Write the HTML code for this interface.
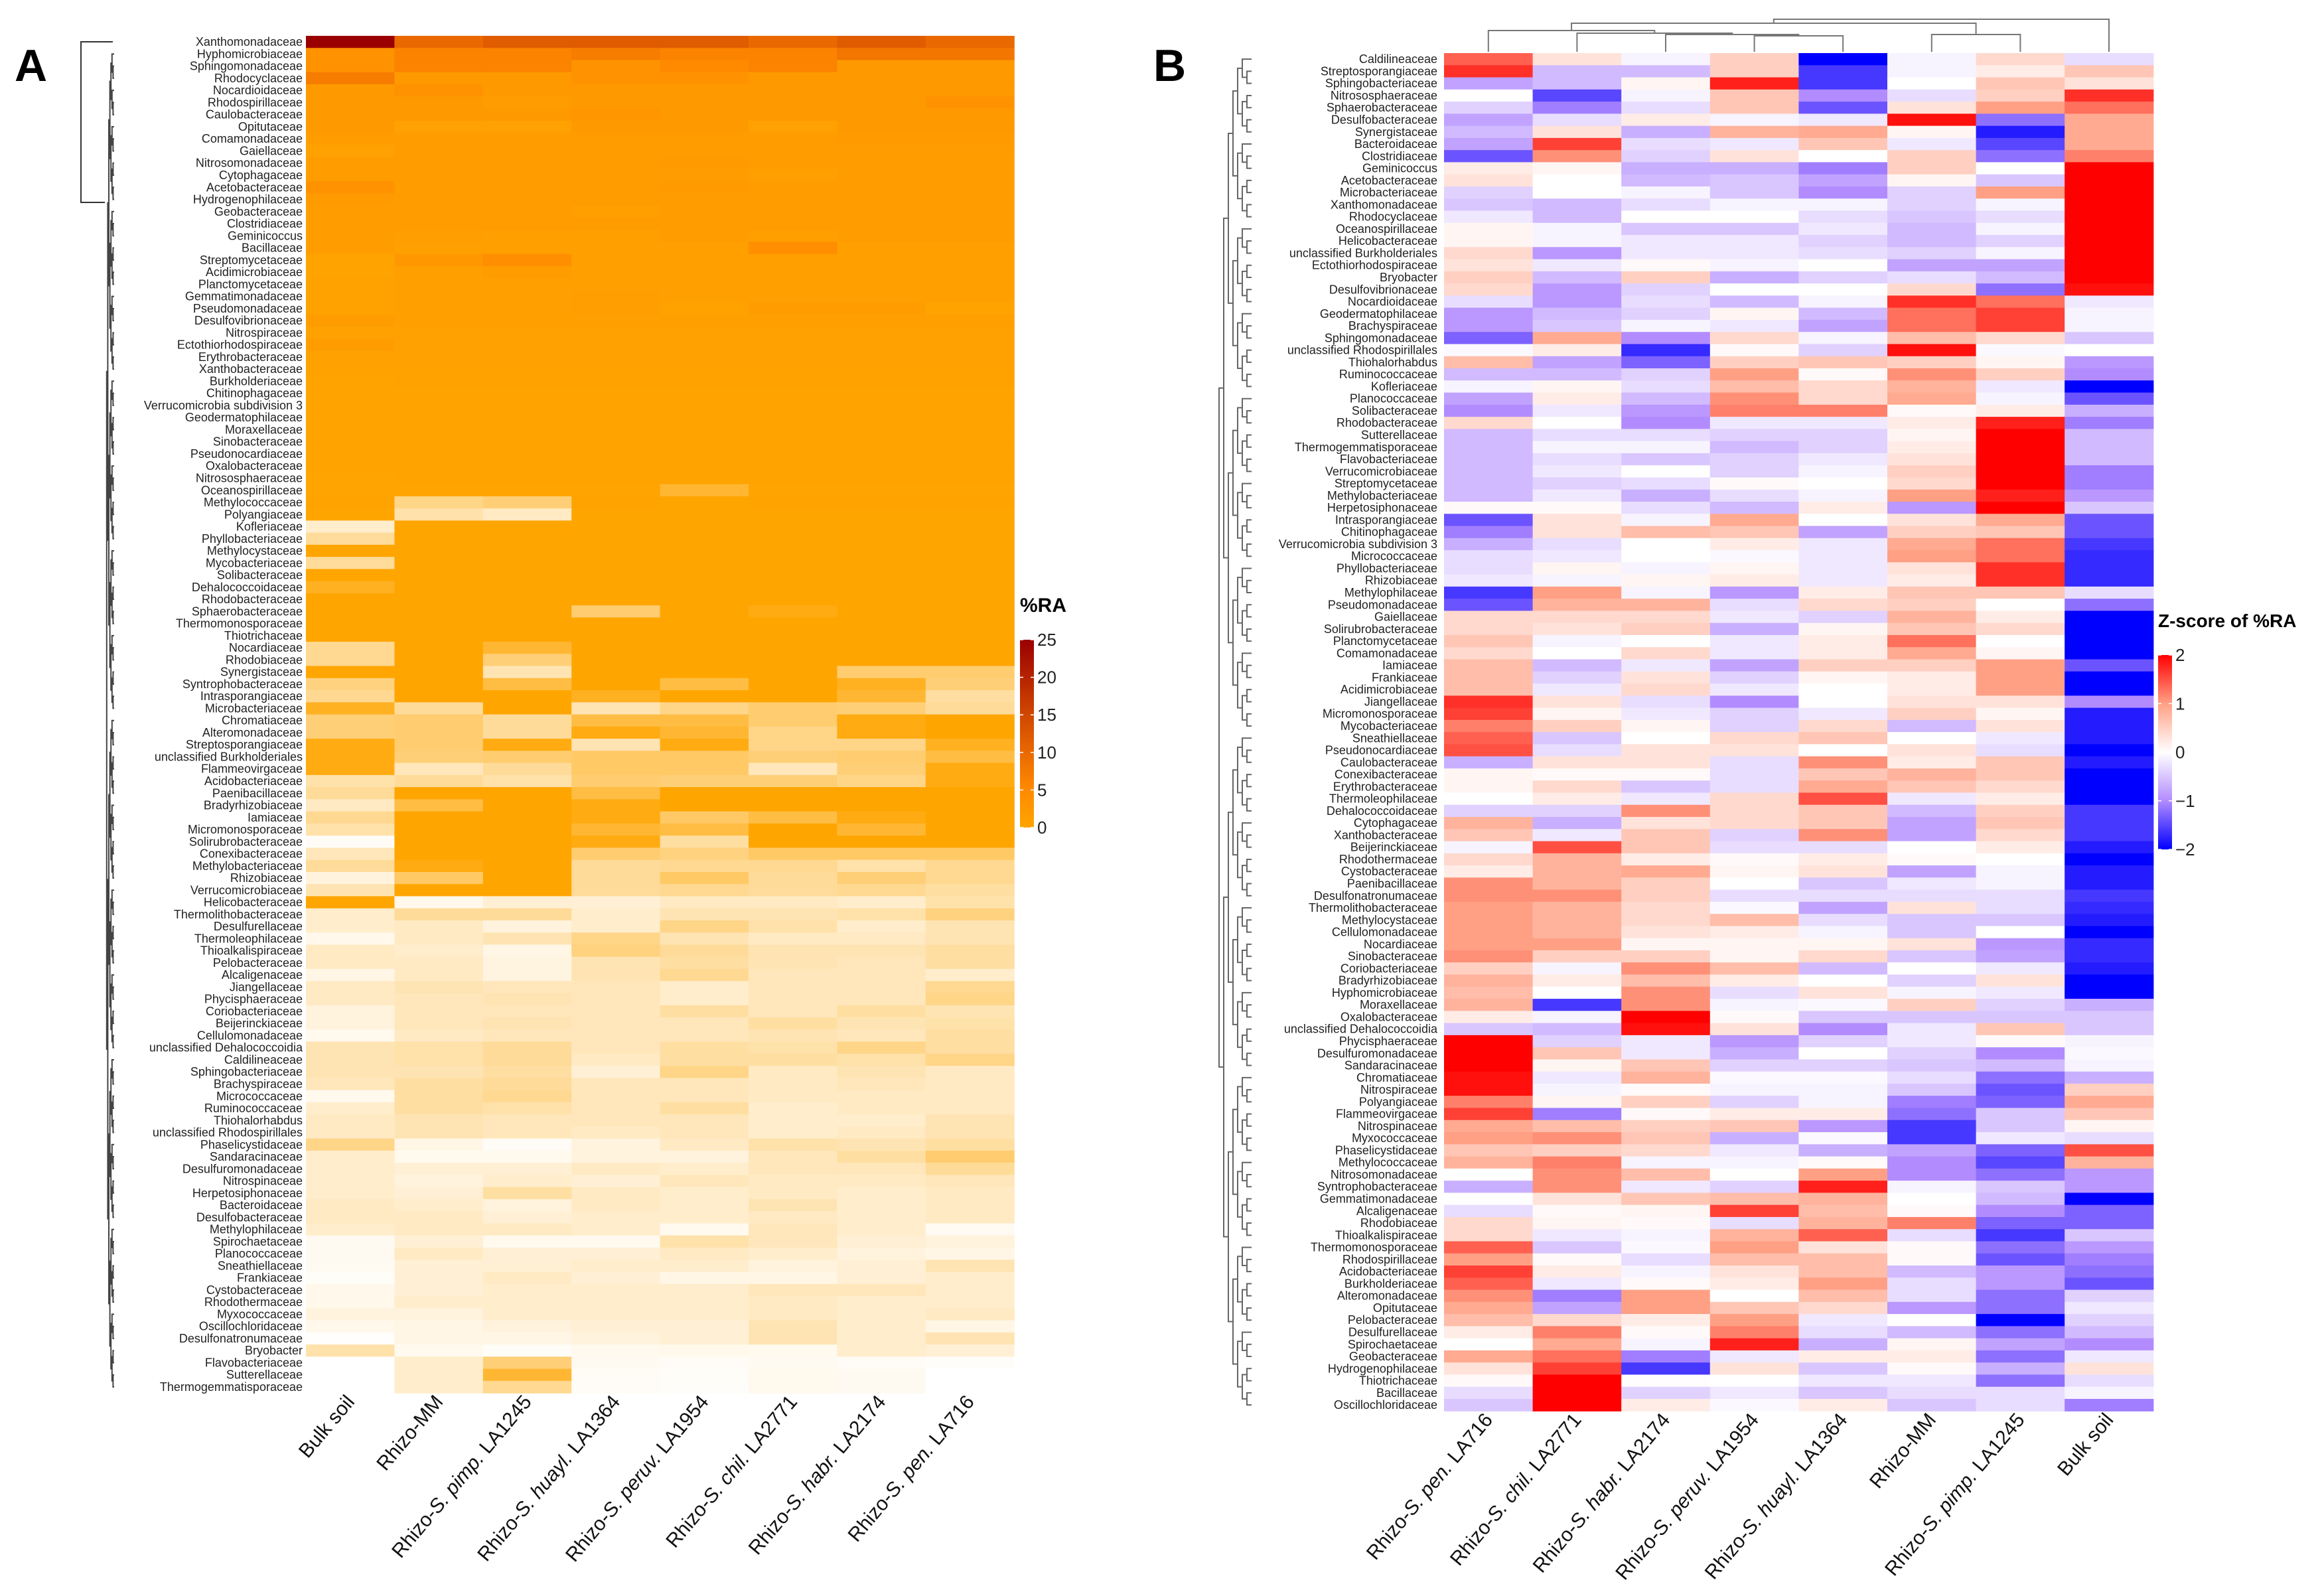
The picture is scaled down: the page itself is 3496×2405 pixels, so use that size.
<!DOCTYPE html>
<html><head><meta charset="utf-8"><title>Heatmaps A and B</title>
<style>
html,body{margin:0;padding:0;background:#fff;}
svg{display:block;}
text{font-family:"Liberation Sans",sans-serif;}
</style></head>
<body>
<svg id="fig" xmlns="http://www.w3.org/2000/svg" width="3496" height="2405" viewBox="0 0 3496 2405">
<rect width="3496" height="2405" fill="#fff"/>
<text x="22" y="122" font-size="68" font-weight="bold">A</text>
<text x="1738" y="122" font-size="68" font-weight="bold">B</text>
<g id="panelA"></g>
<g id="panelB"></g>
</svg>
<script>
// ---------- Panel A data ----------
const colPrefixA = ["Bulk soil","Rhizo-MM","Rhizo-","Rhizo-","Rhizo-","Rhizo-","Rhizo-","Rhizo-"];
const colItalicA = ["","","S. pimp.","S. huayl.","S. peruv.","S. chil.","S. habr.","S. pen."];
const colSuffixA = ["",""," LA1245"," LA1364"," LA1954"," LA2771"," LA2174"," LA716"];
const rowsA = ["Xanthomonadaceae","Hyphomicrobiaceae","Sphingomonadaceae","Rhodocyclaceae","Nocardioidaceae","Rhodospirillaceae","Caulobacteraceae","Opitutaceae","Comamonadaceae","Gaiellaceae","Nitrosomonadaceae","Cytophagaceae","Acetobacteraceae","Hydrogenophilaceae","Geobacteraceae","Clostridiaceae","Geminicoccus","Bacillaceae","Streptomycetaceae","Acidimicrobiaceae","Planctomycetaceae","Gemmatimonadaceae","Pseudomonadaceae","Desulfovibrionaceae","Nitrospiraceae","Ectothiorhodospiraceae","Erythrobacteraceae","Xanthobacteraceae","Burkholderiaceae","Chitinophagaceae","Verrucomicrobia subdivision 3","Geodermatophilaceae","Moraxellaceae","Sinobacteraceae","Pseudonocardiaceae","Oxalobacteraceae","Nitrososphaeraceae","Oceanospirillaceae","Methylococcaceae","Polyangiaceae","Kofleriaceae","Phyllobacteriaceae","Methylocystaceae","Mycobacteriaceae","Solibacteraceae","Dehalococcoidaceae","Rhodobacteraceae","Sphaerobacteraceae","Thermomonosporaceae","Thiotrichaceae","Nocardiaceae","Rhodobiaceae","Synergistaceae","Syntrophobacteraceae","Intrasporangiaceae","Microbacteriaceae","Chromatiaceae","Alteromonadaceae","Streptosporangiaceae","unclassified Burkholderiales","Flammeovirgaceae","Acidobacteriaceae","Paenibacillaceae","Bradyrhizobiaceae","Iamiaceae","Micromonosporaceae","Solirubrobacteraceae","Conexibacteraceae","Methylobacteriaceae","Rhizobiaceae","Verrucomicrobiaceae","Helicobacteraceae","Thermolithobacteraceae","Desulfurellaceae","Thermoleophilaceae","Thioalkalispiraceae","Pelobacteraceae","Alcaligenaceae","Jiangellaceae","Phycisphaeraceae","Coriobacteriaceae","Beijerinckiaceae","Cellulomonadaceae","unclassified Dehalococcoidia","Caldilineaceae","Sphingobacteriaceae","Brachyspiraceae","Micrococcaceae","Ruminococcaceae","Thiohalorhabdus","unclassified Rhodospirillales","Phaselicystidaceae","Sandaracinaceae","Desulfuromonadaceae","Nitrospinaceae","Herpetosiphonaceae","Bacteroidaceae","Desulfobacteraceae","Methylophilaceae","Spirochaetaceae","Planococcaceae","Sneathiellaceae","Frankiaceae","Cystobacteraceae","Rhodothermaceae","Myxococcaceae","Oscillochloridaceae","Desulfonatronumaceae","Bryobacter","Flavobacteriaceae","Sutterellaceae","Thermogemmatisporaceae"];
const valuesA = [
[25,10,12,12,12,10,12,10],[4,6,6,7,6,6,8,8],[4,6,6,4,5,6,3,3],[7,3,3,4,4,3,3,3],[3,4,3,3,3,3,3,3],[3,3,2.5,3,3,3,3,4],[3,3,3,3.5,3,3,3,3],[3,2,2,3,3,2,3,3],
[2.5,2.5,2.5,2.5,2.5,2.5,2.8,2.8],[2,2.5,2.5,2.5,2.5,2.5,2.5,2.5],[2.5,2.5,2.5,2.5,2.8,2.5,2.5,2.5],[2.5,2.5,2.5,2.5,2.5,2.3,2.5,2.5],[4,2.5,2.5,2.5,2.8,2.5,2.5,2.5],[2.8,2.5,2.5,2.5,2.6,2.5,2.5,2.5],[2.5,2.5,2.5,2.3,2.5,2.5,2.5,2.5],[2.5,2.5,2.5,2.5,2.5,2.5,2.5,2.5],
[2.6,2.4,2.3,2.2,2.5,2.3,2.5,2.5],[2.5,2.3,2.3,2.3,2.3,4.5,2.3,2.3],[1.8,3.2,4.5,2.3,2.3,2.3,2.3,2.3],[1.8,2.3,2.5,2.3,2.3,2.3,2.3,2.3],[1.9,2.2,2.2,2.2,2.2,2.2,2.3,2.2],[1.9,2.2,2.2,2.4,2.2,2.2,2.3,2.2],[1.9,2.2,2.2,2.4,1.9,2.5,2.5,1.8],[2.5,2.2,2.2,2.2,2.2,2.2,2.2,2.2],
[2,2,2,2,2,2,2,2],[2.6,2,2,2,2,2,2,2],[2,2,2,2,2,2,2,2],[1.9,1.9,1.9,1.9,1.9,1.9,1.9,1.9],[1.8,1.9,1.9,1.9,1.9,1.9,1.9,1.9],[1.8,1.8,1.8,1.8,1.8,1.8,1.8,1.8],[1.8,1.8,1.8,1.8,1.8,1.8,1.8,1.8],[1.8,1.8,1.8,1.8,1.8,1.8,1.8,1.8],
[1.7,1.8,1.8,1.8,1.8,1.8,1.8,1.8],[1.7,1.7,1.7,1.7,1.7,1.7,1.7,1.7],[1.7,1.7,1.7,1.7,1.7,1.7,1.7,1.7],[1.7,1.7,1.7,1.7,1.7,1.7,1.7,1.7],[1.6,1.7,1.7,1.7,1.7,1.7,1.7,1.7],[1.6,1.6,1.6,1.6,1.2,1.6,1.6,1.6],[1.7,0.7,0.8,1.7,1.5,1.7,1.7,1.7],[1.5,0.5,0.35,1.5,1.5,1.5,1.5,1.5],
[0.3,1.5,1.5,1.5,1.5,1.5,1.5,1.5],[0.6,1.5,1.5,1.5,1.5,1.5,1.5,1.5],[1.5,1.5,1.5,1.5,1.5,1.5,1.5,1.5],[0.6,1.5,1.5,1.5,1.5,1.5,1.5,1.5],[1.5,1.5,1.5,1.5,1.5,1.5,1.5,1.5],[1.3,1.5,1.5,1.5,1.5,1.5,1.5,1.5],[1.5,1.5,1.5,1.5,1.5,1.5,1.5,1.5],[1.5,1.5,1.5,0.85,1.5,1.4,1.5,1.5],
[1.5,1.5,1.5,1.5,1.5,1.5,1.5,1.5],[1.5,1.5,1.5,1.5,1.5,1.5,1.5,1.5],[0.65,1.5,1.2,1.5,1.5,1.5,1.5,1.5],[0.65,1.5,0.8,1.5,1.5,1.5,1.5,1.5],[1.5,1.5,0.45,1.5,1.5,1.5,0.85,0.85],[0.75,1.5,1.1,1.5,1.1,1.5,1.3,0.8],[0.65,1.5,1.5,1.3,1.5,1.5,1.2,0.55],[1.3,0.6,1.5,0.45,0.7,0.85,0.8,0.6],
[0.8,0.85,0.6,1.1,1.1,0.85,1.4,1.5],[0.8,0.85,0.6,1.4,1.2,0.7,1.4,1.5],[1.4,0.85,1.4,0.45,1.4,0.7,0.7,1.3],[1.4,0.8,0.85,0.9,0.9,0.8,0.85,1.1],[1.4,0.4,0.6,0.9,0.9,0.4,0.8,1.4],[0.5,0.6,0.5,0.85,0.8,0.8,0.7,1.4],[0.6,1.5,1.5,1.1,1.5,1.5,1.5,1.5],[0.35,1.1,1.5,1.4,1.5,1.5,1.5,1.5],
[0.65,1.5,1.5,1.4,0.9,1.1,1.4,1.5],[0.5,1.5,1.5,1.2,1.1,1.5,1.2,1.5],[0.05,1.5,1.5,1.4,0.55,1.5,1.5,1.5],[0.4,1.5,1.5,0.85,0.75,0.9,0.9,0.9],[0.6,1.4,1.5,0.6,0.65,0.65,0.5,0.65],[0.2,0.9,1.5,0.6,0.9,0.6,0.8,0.65],[0.45,1.5,1.5,0.6,0.65,0.6,0.65,0.55],[1.5,0.12,0.25,0.25,0.35,0.35,0.3,0.5],
[0.3,0.6,0.6,0.3,0.45,0.45,0.5,0.75],[0.3,0.35,0.2,0.3,0.7,0.5,0.3,0.45],[0.12,0.35,0.45,0.7,0.45,0.35,0.35,0.45],[0.35,0.3,0.15,0.75,0.6,0.45,0.45,0.55],[0.35,0.35,0.18,0.45,0.55,0.45,0.4,0.55],[0.15,0.35,0.18,0.45,0.65,0.4,0.4,0.3],[0.35,0.45,0.4,0.4,0.3,0.4,0.4,0.65],[0.35,0.4,0.45,0.4,0.3,0.4,0.4,0.7],
[0.2,0.4,0.4,0.4,0.55,0.4,0.55,0.45],[0.2,0.4,0.45,0.4,0.4,0.55,0.45,0.5],[0.1,0.35,0.4,0.4,0.4,0.45,0.4,0.55],[0.45,0.5,0.6,0.4,0.55,0.5,0.7,0.55],[0.45,0.5,0.6,0.35,0.55,0.55,0.5,0.7],[0.45,0.45,0.55,0.25,0.7,0.35,0.45,0.35],[0.4,0.55,0.6,0.4,0.4,0.35,0.4,0.35],[0.1,0.55,0.65,0.4,0.4,0.35,0.35,0.35],
[0.3,0.55,0.5,0.4,0.55,0.3,0.35,0.35],[0.35,0.45,0.4,0.4,0.4,0.3,0.3,0.45],[0.35,0.45,0.4,0.35,0.4,0.3,0.35,0.45],[0.7,0.15,0.05,0.2,0.35,0.5,0.45,0.55],[0.3,0.1,0.1,0.2,0.2,0.4,0.55,0.85],[0.3,0.25,0.25,0.35,0.3,0.4,0.4,0.6],[0.3,0.2,0.3,0.25,0.4,0.35,0.35,0.4],[0.3,0.25,0.55,0.35,0.3,0.35,0.3,0.35],
[0.35,0.3,0.2,0.35,0.3,0.45,0.3,0.35],[0.35,0.35,0.25,0.3,0.3,0.35,0.3,0.35],[0.3,0.35,0.35,0.3,0.1,0.4,0.3,0.08],[0.08,0.25,0.1,0.1,0.5,0.4,0.25,0.2],[0.08,0.35,0.25,0.25,0.35,0.3,0.2,0.15],[0.08,0.25,0.25,0.3,0.3,0.2,0.25,0.45],[0.04,0.25,0.35,0.25,0.15,0.15,0.25,0.3],[0.12,0.25,0.3,0.3,0.3,0.4,0.4,0.3],
[0.12,0.3,0.3,0.3,0.3,0.35,0.3,0.3],[0.2,0.2,0.3,0.3,0.3,0.35,0.3,0.35],[0.12,0.15,0.2,0.25,0.25,0.45,0.3,0.15],[0.02,0.15,0.15,0.2,0.25,0.45,0.3,0.45],[0.5,0.1,0.04,0.1,0.12,0.1,0.3,0.25],[0,0.3,0.8,0.08,0.05,0.08,0.05,0.03],[0,0.3,1.2,0.06,0.04,0.1,0.08,0],[0,0.3,0.65,0.05,0.03,0.1,0.08,0]
];
const ticksA = [0,5,10,15,20,25];

// ---------- Panel B data ----------
const colPrefixB = ["Rhizo-","Rhizo-","Rhizo-","Rhizo-","Rhizo-","Rhizo-MM","Rhizo-","Bulk soil"];
const colItalicB = ["S. pen.","S. chil.","S. habr.","S. peruv.","S. huayl.","","S. pimp.",""];
const colSuffixB = [" LA716"," LA2771"," LA2174"," LA1954"," LA1364",""," LA1245",""];
const rowsB = ["Caldilineaceae","Streptosporangiaceae","Sphingobacteriaceae","Nitrososphaeraceae","Sphaerobacteraceae","Desulfobacteraceae","Synergistaceae","Bacteroidaceae","Clostridiaceae","Geminicoccus","Acetobacteraceae","Microbacteriaceae","Xanthomonadaceae","Rhodocyclaceae","Oceanospirillaceae","Helicobacteraceae","unclassified Burkholderiales","Ectothiorhodospiraceae","Bryobacter","Desulfovibrionaceae","Nocardioidaceae","Geodermatophilaceae","Brachyspiraceae","Sphingomonadaceae","unclassified Rhodospirillales","Thiohalorhabdus","Ruminococcaceae","Kofleriaceae","Planococcaceae","Solibacteraceae","Rhodobacteraceae","Sutterellaceae","Thermogemmatisporaceae","Flavobacteriaceae","Verrucomicrobiaceae","Streptomycetaceae","Methylobacteriaceae","Herpetosiphonaceae","Intrasporangiaceae","Chitinophagaceae","Verrucomicrobia subdivision 3","Micrococcaceae","Phyllobacteriaceae","Rhizobiaceae","Methylophilaceae","Pseudomonadaceae","Gaiellaceae","Solirubrobacteraceae","Planctomycetaceae","Comamonadaceae","Iamiaceae","Frankiaceae","Acidimicrobiaceae","Jiangellaceae","Micromonosporaceae","Mycobacteriaceae","Sneathiellaceae","Pseudonocardiaceae","Caulobacteraceae","Conexibacteraceae","Erythrobacteraceae","Thermoleophilaceae","Dehalococcoidaceae","Cytophagaceae","Xanthobacteraceae","Beijerinckiaceae","Rhodothermaceae","Cystobacteraceae","Paenibacillaceae","Desulfonatronumaceae","Thermolithobacteraceae","Methylocystaceae","Cellulomonadaceae","Nocardiaceae","Sinobacteraceae","Coriobacteriaceae","Bradyrhizobiaceae","Hyphomicrobiaceae","Moraxellaceae","Oxalobacteraceae","unclassified Dehalococcoidia","Phycisphaeraceae","Desulfuromonadaceae","Sandaracinaceae","Chromatiaceae","Nitrospiraceae","Polyangiaceae","Flammeovirgaceae","Nitrospinaceae","Myxococcaceae","Phaselicystidaceae","Methylococcaceae","Nitrosomonadaceae","Syntrophobacteraceae","Gemmatimonadaceae","Alcaligenaceae","Rhodobiaceae","Thioalkalispiraceae","Thermomonosporaceae","Rhodospirillaceae","Acidobacteriaceae","Burkholderiaceae","Alteromonadaceae","Opitutaceae","Pelobacteraceae","Desulfurellaceae","Spirochaetaceae","Geobacteraceae","Hydrogenophilaceae","Thiotrichaceae","Bacillaceae","Oscillochloridaceae"];
const valuesB = [
[1.4,0.3,-0.1,0.5,-2,-0.1,0.4,-0.3],[1.7,-0.6,-0.6,0.5,-1.6,-0.1,0.2,0.6],[-0.8,-0.6,0.1,1.8,-1.6,0,0.6,0.3],[0,-1.5,-0.1,0.6,-1.0,-0.3,0.5,1.7],[-0.4,-1.1,-0.3,0.6,-1.4,0.3,1.0,1.3],[-0.8,-0.3,0.2,-0.1,-0.2,1.9,-1.2,0.9],[-0.6,0.3,-0.7,0.8,0.9,0.1,-1.8,0.9],[-0.8,1.6,-0.3,-0.2,0.6,-0.2,-1.5,0.9],
[-1.4,1.1,-0.4,0.3,0,0.5,-1.2,1.2],[0.2,0.1,-0.7,-0.7,-1.1,0.5,0,2],[0.3,0,-0.6,-0.5,-0.8,0.1,-0.5,2],[-0.4,0,-0.1,-0.5,-1.0,-0.4,1.0,2],[-0.5,-0.6,-0.3,-0.1,-0.1,-0.4,-0.1,2],[-0.2,-0.6,0,0,-0.3,-0.5,-0.3,2],[0.1,-0.1,-0.5,-0.5,-0.2,-0.6,-0.1,2],[0.1,-0.1,-0.2,-0.2,-0.4,-0.6,-0.4,2],
[0.4,-0.9,-0.2,-0.2,-0.3,-0.4,-0.1,2],[0.3,-0.2,0.05,-0.1,0,-0.8,-0.8,2],[0.5,-0.6,0.5,-0.7,-0.4,-0.3,-0.6,2],[0.4,-0.9,-0.4,0,0,0.4,-1.2,1.9],[-0.3,-0.9,-0.3,-0.6,-0.1,1.7,1.3,-0.2],[-0.9,-0.6,-0.4,0.1,-0.6,1.3,1.6,-0.1],[-0.9,-0.5,-0.1,-0.2,-0.8,1.3,1.6,-0.1],[-1.3,0.9,-1.0,0.4,-0.1,0.7,0.4,-0.5],
[-0.05,0.2,-1.7,0.05,-0.4,1.9,-0.05,0],[0.7,-0.8,-1.3,0.5,0.6,0.5,0.1,-0.9],[-0.6,-0.6,-0.4,1.0,0.05,1.1,0.5,-1.0],[-0.1,0.1,-0.3,0.7,0.4,0.8,-0.2,-2],[-0.8,0.2,-0.6,1.1,0.4,0.9,-0.1,-1.4],[-1.0,-0.2,-0.9,1.2,1.2,0.05,0.2,-0.7],[0.4,0,-1.0,-0.2,-0.2,0.2,1.8,-1.1],[-0.6,-0.3,-0.3,-0.4,-0.4,0.1,2,-0.6],
[-0.6,-0.1,-0.1,-0.6,-0.4,0.2,2,-0.6],[-0.6,-0.3,-0.5,-0.4,-0.2,0.3,2,-0.6],[-0.6,-0.2,0,-0.4,-0.1,0.5,2,-1.1],[-0.6,-0.4,-0.3,0.05,0,0.4,2,-1.1],[-0.6,-0.2,-0.7,-0.3,-0.1,1.0,1.8,-0.9],[0.05,0.05,-0.3,-0.6,0.2,-0.9,2,-0.5],[-1.4,0.3,-0.1,0.9,0,0.3,0.9,-1.4],[-1.1,0.3,0.7,0.6,-0.8,0.5,0.6,-1.4],
[-0.7,-0.3,0,0.2,-0.2,0.9,1.3,-1.6],[-0.3,-0.2,0,-0.05,-0.2,1.0,1.3,-1.7],[-0.3,0.1,-0.1,0.1,-0.2,0.3,1.7,-1.7],[-0.2,-0.1,0.1,0.2,-0.2,0.2,1.7,-1.7],[-1.6,1.0,-0.1,-0.9,0.2,0.6,0.6,-0.3],[-1.4,0.8,0.8,-0.3,0.4,0.5,0,-1.2],[0.4,0.4,0.4,-0.2,-0.4,0.8,0.2,-2],[0.4,0.3,0.5,-0.7,0.1,0.6,0.4,-2],
[0.6,-0.1,0,-0.2,0.2,1.3,0,-2],[0.4,0,0.4,-0.2,0.2,0.9,0.1,-2],[0.7,-0.6,-0.2,-0.8,0.5,0.5,1.0,-1.4],[0.7,-0.4,0.3,-0.4,0.1,0.2,1.0,-2],[0.7,-0.2,0.4,-0.2,0,0.2,1.0,-2],[1.7,0.3,-0.3,-1.0,0,0.3,0.3,-1.0],[1.6,0.1,-0.2,-0.4,-0.2,0.5,0.1,-1.8],[1.2,0.5,0.1,-0.4,0.4,-0.6,0.3,-1.8],
[1.4,-0.5,0,0.4,0.6,0,-0.2,-1.8],[1.5,-0.3,0.3,0.3,0,0.3,-0.3,-2],[-0.7,0.3,0.3,-0.3,1.1,0.2,0.6,-1.8],[0.1,0.05,0.05,-0.3,0.6,0.8,0.6,-2],[0.1,0.4,-0.5,-0.3,0.9,0.6,0.4,-2],[0,0.2,-0.2,0.4,1.5,-0.2,0.2,-2],[-0.4,-0.4,1.1,0.4,0.6,-0.6,0.5,-1.6],[0.8,-0.7,0.3,0.4,0.6,-0.8,0.6,-1.6],
[0.6,-0.2,0.6,-0.4,1.1,-0.8,0.4,-1.6],[-0.1,1.5,0.6,-0.3,-0.3,0,0.2,-1.8],[0.4,0.8,0.2,0.05,0.2,0.05,0,-2],[0.2,0.8,0.9,0.1,0.3,-0.8,-0.1,-1.8],[1.1,0.8,0.5,0,-0.5,-0.2,-0.1,-1.8],[1.1,1.1,0.5,-0.3,-0.3,-0.3,-0.3,-1.6],[1.0,0.8,0.4,-0.05,-0.8,0.3,-0.3,-1.7],[1.0,0.8,0.4,0.7,-0.3,-0.5,-0.5,-1.8],
[1.0,0.8,0.3,0.2,-0.1,-0.5,0,-2],[1.0,1.0,0.1,0.1,0.1,0.3,-0.9,-1.7],[1.1,0.5,0.5,0.1,0.4,-0.5,-0.8,-1.7],[0.5,-0.1,1.1,0.7,-0.6,0,-0.2,-1.8],[0.8,0.2,0.7,0.2,0,-0.4,0.3,-2],[0.7,0,1.1,-0.3,0.3,-0.1,-0.2,-2],[0.8,-1.6,1.1,-0.1,-0.05,0.5,-0.4,-0.7],[0.2,-0.1,2,0.05,-0.5,-0.5,-0.5,-0.5],
[-0.5,-0.6,1.9,0.3,-1.0,-0.2,0.6,-0.5],[2,-0.4,-0.2,-0.9,-0.4,-0.2,0.05,-0.1],[2,0.6,-0.2,-0.7,0,-0.4,-1.0,-0.05],[2,0.1,0.6,-0.4,-0.4,-0.5,-0.6,-0.1],[1.9,-0.2,0.8,-0.05,-0.05,-0.3,-1.2,-0.7],[1.9,-0.1,0.05,-0.1,-0.1,-0.5,-1.4,0.5],[1.2,0.1,0.5,-0.4,-0.1,-1.1,-1.3,0.9],[1.6,-1.1,0.05,0.2,0.2,-1.2,-0.5,0.6],
[0.9,0.7,0.5,0.6,-0.9,-1.6,-0.5,0.1],[1.0,1.1,0.6,-0.7,-0.05,-1.6,-0.2,-0.3],[0.6,0.5,0.4,-0.2,-0.7,-0.8,-1.3,1.5],[0.8,1.2,-0.1,-0.1,0.05,-1.0,-1.5,0.8],[0,1.1,0.7,0,1.0,-1.0,-1.2,-0.9],[-0.7,1.1,-0.2,-0.4,1.8,-0.1,-0.5,-0.9],[0,0.3,0.6,0.7,0.8,0,-0.6,-2],[-0.3,0.05,0.1,1.6,0.7,0.05,-1.0,-1.3],
[0.4,0.1,0.05,-0.3,0.8,1.2,-1.3,-1.3],[0.4,-0.2,-0.1,0.8,1.4,-0.3,-1.6,-0.5],[1.4,-0.5,-0.05,1.0,0.3,0.05,-1.2,-0.9],[1.0,0.05,-0.3,0.7,0.7,0.05,-1.4,-1.1],[1.6,0.2,-0.1,0.3,0.7,-0.6,-0.9,-1.2],[1.4,-0.2,0.05,0.2,1.0,-0.3,-0.9,-1.4],[1.1,-1.1,1.0,0,0.7,-0.3,-1.2,-0.4],[0.9,-0.8,1.0,0.6,0.4,-0.9,-1.2,-0.2],
[0.7,0.4,0.2,1.0,-0.2,0,-2,-0.4],[0.2,1.2,0.05,1.2,-0.3,-0.6,-1.2,-0.6],[0,0.9,-0.1,1.8,-0.7,0.1,-0.8,-1.0],[0.9,1.3,-1.1,-0.2,0.2,0.2,-1.2,-0.2],[0.3,1.6,-1.6,0.3,-0.5,0.05,-0.7,0.3],[0.05,2,0.02,0,-0.2,-0.2,-1.2,-0.3],[-0.3,2,-0.4,-0.2,-0.5,-0.3,-0.3,-0.1],[-0.5,2,0.2,-0.05,0.2,-0.5,-0.3,-1.1]
];
const ticksB = [2,1,0,-1,-2];
</script>
<script>
const NS = "http://www.w3.org/2000/svg";
function mk(parent, tag, attrs){ const e=document.createElementNS(NS,tag); for(const k in attrs) e.setAttribute(k,attrs[k]); parent.appendChild(e); return e; }
function hex(c){return [parseInt(c.slice(1,3),16),parseInt(c.slice(3,5),16),parseInt(c.slice(5,7),16)];}
function scaleColor(stops,v){
  if(v<=stops[0][0]) return stops[0][1];
  for(let i=1;i<stops.length;i++){
    if(v<=stops[i][0]){
      const t=(v-stops[i-1][0])/(stops[i][0]-stops[i-1][0]);
      const a=hex(stops[i-1][1]), b=hex(stops[i][1]);
      return "rgb("+a.map((x,j)=>Math.round(x+(b[j]-x)*t)).join(",")+")";
    }
  }
  return stops[stops.length-1][1];
}
const stopsA=[[0,"#ffffff"],[1.5,"#ffa500"],[5,"#ff8a00"],[12,"#e05c00"],[25,"#9b0000"]];
const stopsB=[[-2,"#0000ff"],[-1,"#b28cff"],[0,"#ffffff"],[1,"#ffa085"],[2,"#ff0000"]];

function drawPanel(g, cfg){
  const {x0,y0,cw,rh,rows,values,stops,prefix,italic,suffix,labelRight,pfx}=cfg;
  const xScale = c => x0 + c*cw;
  const yScale = r => y0 + r*rh;
  const cells = mk(g,"g",{});
  
  
  values.forEach((row,r)=>row.forEach((v,c)=>{
    const rect=mk(cells,"rect",{x:xScale(c).toFixed(2),y:yScale(r).toFixed(2),width:(cw+0.6).toFixed(2),height:(rh+0.6).toFixed(2),fill:scaleColor(stops,v)});
    
    
  }));
  rows.forEach((name,r)=>{
    const t=mk(g,"text",{x:labelRight,y:(yScale(r)+rh/2+6).toFixed(1),"font-size":cfg.rowFont,"text-anchor":"end",fill:"#222"});
    t.textContent=name;
    
    
  });
  const yb = yScale(rows.length);
  prefix.forEach((p,c)=>{
    const cx = xScale(c)+cw/2+8, cy = yb+14;
    const t=mk(g,"text",{x:cx,y:cy,"font-size":30,"text-anchor":"end",transform:`rotate(-50 ${cx} ${cy})`,fill:"#111"});
    
    
    const s1=mk(t,"tspan",{}); s1.textContent=p;
    if(italic[c]){ const s2=mk(t,"tspan",{"font-style":"italic"}); s2.textContent=italic[c]; }
    if(suffix[c]){ const s3=mk(t,"tspan",{}); s3.textContent=suffix[c]; }
  });
}

function rowTree(g, lo, hi, y0, rh, xLeaf, step, depth, col){
  if(hi-lo===1) return {y:y0+(lo+0.5)*rh, x:xLeaf};
  const mid=Math.floor((lo+hi)/2);
  const a=rowTree(g,lo,mid,y0,rh,xLeaf,step,depth+1,col), b=rowTree(g,mid,hi,y0,rh,xLeaf,step,depth+1,col);
  const x=Math.min(a.x,b.x)-step;
  const p=`M${a.x},${a.y}H${x}V${b.y}H${b.x}`;
  mk(g,"path",{d:p,fill:"none",stroke:col,"stroke-width":2});
  return {y:(a.y+b.y)/2,x:x};
}

const gA=document.getElementById("panelA");
drawPanel(gA,{x0:461,y0:54,cw:133.4,rh:18.26,rows:rowsA,values:valuesA,stops:stopsA,prefix:colPrefixA,italic:colItalicA,suffix:colSuffixA,labelRight:456,rowFont:18,pfx:"panel-a"});
const gB=document.getElementById("panelB");
drawPanel(gB,{x0:2176,y0:80,cw:133.6,rh:18.27,rows:rowsB,values:valuesB,stops:stopsB,prefix:colPrefixB,italic:colItalicB,suffix:colSuffixB,labelRight:2166,rowFont:18,pfx:"panel-b"});

const dA=mk(gA,"g",{});  
rowTree(dA,1,112,54,18.26,172,1.6,0,"#444");
mk(dA,"path",{d:"M170,63H122V305H158",fill:"none",stroke:"#333","stroke-width":2});
const dB=mk(gB,"g",{});  
rowTree(dB,0,112,80,18.27,1886,7,0,"#666");

const cdB=mk(gB,"g",{});  
const cxB=c=>2176+133.6*(c+0.5);
const L=78;
const m45=(cxB(3)+cxB(4))/2, m345=(cxB(2)+m45)/2, m2345=(cxB(1)+m345)/2, m1_5=(cxB(0)+m2345)/2, m67=(cxB(5)+cxB(6))/2, m1_7=(m1_5+m67)/2;
[
 `M${cxB(3)},${L}V54H${cxB(4)}V${L}`,
 `M${cxB(2)},${L}V52H${m45}V54`,
 `M${cxB(1)},${L}V50H${m345}V52`,
 `M${cxB(0)},${L}V46H${m2345}V50`,
 `M${cxB(5)},${L}V52H${cxB(6)}V${L}`,
 `M${m1_5},46V35H${m67}V52`,
 `M${m1_7},35V29H${cxB(7)}V${L}`
].forEach(d=>mk(cdB,"path",{d:d,fill:"none",stroke:"#777","stroke-width":2}));

const lgA=mk(gA,"g",{});  
const tA=mk(lgA,"text",{x:1537,y:922,"font-size":30,"font-weight":"bold"}); tA.textContent="%RA";
 
const defs=mk(document.getElementById("fig"),"defs",{});
const grA=mk(defs,"linearGradient",{id:"gradA",x1:0,y1:1,x2:0,y2:0});
ticksA.forEach(v=>mk(grA,"stop",{offset:v/25,"stop-color":scaleColor(stopsA,Math.max(v,1.5))}));
mk(lgA,"rect",{x:1537,y:964,width:21,height:283,fill:"url(#gradA)"});
const yA=v=>1247-v/25*283;
ticksA.forEach(v=>{
  mk(lgA,"line",{x1:1537,x2:1542,y1:yA(v),y2:yA(v),stroke:"#fff","stroke-width":1.5});
  mk(lgA,"line",{x1:1553,x2:1558,y1:yA(v),y2:yA(v),stroke:"#fff","stroke-width":1.5});
  const t=mk(lgA,"text",{x:1563,y:yA(v)+9,"font-size":26,fill:"#222"}); t.textContent=v;
   
});

const lgB=mk(gB,"g",{});  
const tB=mk(lgB,"text",{x:3252,y:945,"font-size":28,"font-weight":"bold"}); tB.textContent="Z-score of %RA";
 
const grB=mk(defs,"linearGradient",{id:"gradB",x1:0,y1:1,x2:0,y2:0});
[-2,-1.5,-1,-0.5,0,0.5,1,1.5,2].forEach(v=>mk(grB,"stop",{offset:(v+2)/4,"stop-color":scaleColor(stopsB,v)}));
mk(lgB,"rect",{x:3252,y:987,width:21,height:293,fill:"url(#gradB)"});
const yB=v=>1280-(v+2)/4*293;
ticksB.forEach(v=>{
  mk(lgB,"line",{x1:3252,x2:3257,y1:yB(v),y2:yB(v),stroke:"#fff","stroke-width":1.5});
  mk(lgB,"line",{x1:3268,x2:3273,y1:yB(v),y2:yB(v),stroke:"#fff","stroke-width":1.5});
  const t=mk(lgB,"text",{x:3278,y:yB(v)+9,"font-size":26,fill:"#222"}); t.textContent=(v<0?"\u2212"+(-v):v);
   
});
</script>
</body></html>
